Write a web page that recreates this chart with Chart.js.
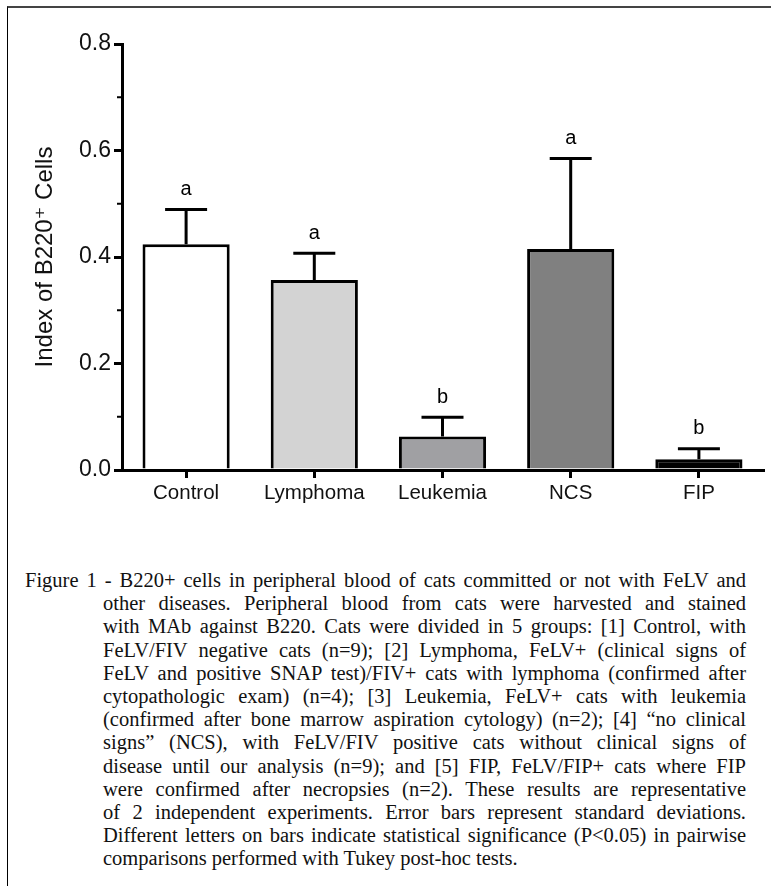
<!DOCTYPE html>
<html>
<head>
<meta charset="utf-8">
<script src="https://cdn.jsdelivr.net/npm/chart.js@4.4.1/dist/chart.umd.min.js"></script>
<style>
    body { margin: 0; background: #fff; }
    #page { position: relative; width: 771px; height: 886px; overflow: hidden; }
    #frame { position: absolute; left: 7px; top: 6px; right: 0; bottom: -2px;
        border-top: 2px solid #444; border-left: 1px solid #000; }
    #wrap { position: absolute; left: 0; top: 0; width: 771px; height: 520px; }
    #caption { position: absolute; left: 25px; top: 569px; width: 721px;
        font-family: 'Liberation Serif', 'Times New Roman', serif; font-size: 20.5px;
        line-height: 23.2px; color: #111; }
    #caption div { text-align: justify; text-align-last: justify; white-space: nowrap; }
    #caption div.ind { padding-left: 78px; }
    #caption div.last { text-align-last: left; }
</style>
</head>
<body>
<div id="page">
    <div id="frame"></div>
    <div id="wrap"><canvas id="b220_canvas" width="771" height="520"></canvas></div>
    <div id="caption"></div>
</div>
<script>
const categories = ['Control', 'Lymphoma', 'Leukemia', 'NCS', 'FIP']
const means = [0.424, 0.357, 0.063, 0.415, 0.02]
const sd = [0.065, 0.05, 0.036, 0.17, 0.02]
const letters = ['a', 'a', 'b', 'a', 'b']
const yTicks = [0, 0.2, 0.4, 0.6, 0.8]
const yMinor = [0.1, 0.3, 0.5, 0.7]
const fills = ['#ffffff', '#d3d3d3', '#a0a0a3', '#808080', '#000000']

const captionLines = [
    'Figure 1 - B220+ cells in peripheral blood of cats committed or not with FeLV and',
    'other diseases. Peripheral blood from cats were harvested and stained',
    'with MAb against B220. Cats were divided in 5 groups: [1] Control, with',
    'FeLV/FIV negative cats (n=9); [2] Lymphoma, FeLV+ (clinical signs of',
    'FeLV and positive SNAP test)/FIV+ cats with lymphoma (confirmed after',
    'cytopathologic exam) (n=4); [3] Leukemia, FeLV+ cats with leukemia',
    '(confirmed after bone marrow aspiration cytology) (n=2); [4] \u201cno clinical',
    'signs\u201d (NCS), with FeLV/FIV positive cats without clinical signs of',
    'disease until our analysis (n=9); and [5] FIP, FeLV/FIP+ cats where FIP',
    'were confirmed after necropsies (n=2). These results are representative',
    'of 2 independent experiments. Error bars represent standard deviations.',
    'Different letters on bars indicate statistical significance (P<0.05) in pairwise',
    'comparisons performed with Tukey post-hoc tests.'
]

function buildCaption() {
    let box = document.getElementById('caption')
    captionLines.forEach((txt, i) => {
        let d = document.createElement('div')
        d.textContent = txt
        if (i > 0) d.className = 'ind'
        if (i === captionLines.length - 1) d.className = 'ind last'
        box.appendChild(d)
    })
}

// error bars (upper SD only), letters and minor ticks
const extras = {
    id: 'extras',
    afterDatasetsDraw(chart) {
        const ctx = chart.ctx
        const x = chart.scales.x
        const y = chart.scales.y
        ctx.save()
        ctx.strokeStyle = '#000'
        ctx.lineWidth = 3
        means.forEach((m, i) => {
            let cx = x.getPixelForValue(i)
            let y0 = y.getPixelForValue(m)
            let y1 = y.getPixelForValue(m + sd[i])
            ctx.beginPath()
            ctx.moveTo(cx, y0)
            ctx.lineTo(cx, y1)
            ctx.moveTo(cx - 21, y1)
            ctx.lineTo(cx + 21, y1)
            ctx.stroke()
            ctx.fillStyle = '#000'
            ctx.font = '20px "Liberation Sans", Arial, sans-serif'
            ctx.textAlign = 'center'
            ctx.textBaseline = 'middle'
            ctx.fillText(letters[i], cx, y1 - 20)
        })
        ctx.lineWidth = 2
        yMinor.forEach(v => {
            let py = y.getPixelForValue(v)
            ctx.beginPath()
            ctx.moveTo(x.left - 1, py)
            ctx.lineTo(x.left - 5, py)
            ctx.stroke()
        })
        ctx.restore()
    }
}

function chartB220() {
    const setup = {
        labels: categories,
        datasets: [{
            label: 'Index of B220+ Cells',
            data: means,
            backgroundColor: fills,
            borderColor: '#000',
            borderWidth: 3,
            borderSkipped: 'start',
            categoryPercentage: 1,
            barPercentage: 0.68
        }]
    }
    const chart = new Chart(document.getElementById('b220_canvas'), {
        type: 'bar',
        data: setup,
        plugins: [extras],
        options: {
            responsive: false,
            animation: false,
            events: [],
            layout: { padding: { left: 0, right: 8, top: 44, bottom: 0 } },
            plugins: {
                legend: { display: false },
                tooltip: { enabled: false }
            },
            scales: {
                x: {
                    afterFit: s => { s.height = 50 },
                    grid: { display: true, drawOnChartArea: false, offset: false,
                        color: '#000', lineWidth: 3, tickLength: 8 },
                    border: { display: true, color: '#000', width: 3 },
                    ticks: { color: '#111', padding: 3,
                        font: { family: '"Liberation Sans", Arial, sans-serif', size: 20.5 } }
                },
                y: {
                    min: 0,
                    max: 0.8,
                    afterFit: s => { s.width = 122 },
                    afterBuildTicks: s => { s.ticks = yTicks.map(v => ({ value: v })) },
                    grid: { display: true, drawOnChartArea: false,
                        color: '#000', lineWidth: 3, tickLength: 8 },
                    border: { display: true, color: '#000', width: 3 },
                    ticks: { color: '#111', padding: 3,
                        callback: v => v.toFixed(1),
                        font: { family: '"Liberation Sans", Arial, sans-serif', size: 23 } },
                    title: { display: true, text: 'Index of B220\u207A Cells', color: '#111',
                        padding: { top: 31, bottom: 0 },
                        font: { family: '"Liberation Sans", "DejaVu Sans", Arial, sans-serif', size: 24 } }
                }
            }
        }
    })
    return chart
}

buildCaption()
chartB220()
</script>
</body>
</html>
